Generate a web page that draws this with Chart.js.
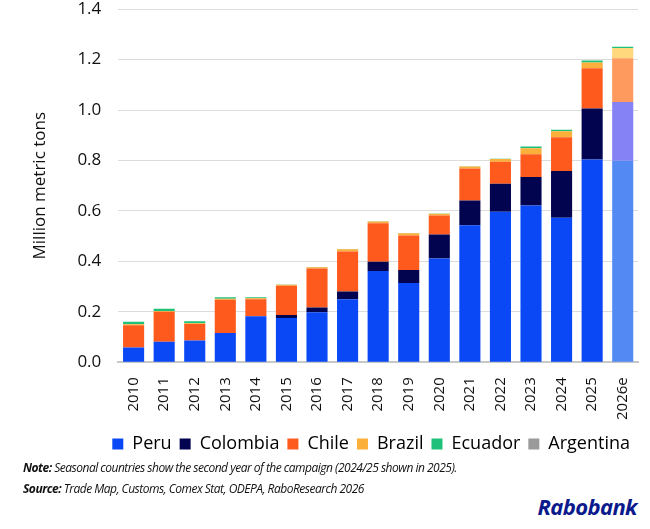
<!DOCTYPE html>
<html>
<head>
<meta charset="utf-8">
<script src="https://cdn.jsdelivr.net/npm/chart.js@4"></script>
<style>
    body { margin: 0; background: #fff; width: 650px; height: 529px; overflow: hidden; position: relative; font-family: "Open Sans", sans-serif; }
    #wrap { position: absolute; left: 0; top: -18px; width: 650px; height: 481px; }
    .note { position: absolute; left: 23px; font-size: 12px; font-style: italic; color: #111; white-space: nowrap; letter-spacing: -0.5px; }
    .note b { font-weight: 700; }
    #logo { position: absolute; right: 13px; top: 491px; font-size: 22px; font-weight: 700; font-style: italic; color: #0b1a8c; letter-spacing: -0.6px; }
</style>
</head>
<body>
<div id="wrap"><canvas id="chart"></canvas></div>
<div class="note" style="top:459px"><b>Note:</b> Seasonal countries show the second year of the campaign (2024/25 shown in 2025).</div>
<div class="note" style="top:480px"><b>Source:</b> Trade Map, Customs, Comex Stat, ODEPA, RaboResearch 2026</div>
<div id="logo">Rabobank</div>
<script>
const years = ['2010', '2011', '2012', '2013', '2014', '2015', '2016', '2017', '2018',
    '2019', '2020', '2021', '2022', '2023', '2024', '2025', '2026e'];
const yTicks = [0, 0.2, 0.4, 0.6, 0.8, 1.0, 1.2, 1.4];

// million metric tons
const peru      = [0.059, 0.081, 0.086, 0.116, 0.182, 0.176, 0.198, 0.250, 0.362, 0.314, 0.411, 0.543, 0.597, 0.622, 0.573, 0.804, 0.799];
const colombia  = [0.000, 0.000, 0.000, 0.000, 0.000, 0.011, 0.019, 0.031, 0.037, 0.052, 0.096, 0.098, 0.111, 0.113, 0.185, 0.202, 0.233];
const chile     = [0.088, 0.119, 0.066, 0.132, 0.068, 0.116, 0.155, 0.158, 0.152, 0.137, 0.075, 0.127, 0.087, 0.090, 0.134, 0.160, 0.174];
const brazil    = [0.004, 0.003, 0.003, 0.004, 0.004, 0.004, 0.005, 0.009, 0.007, 0.009, 0.007, 0.008, 0.011, 0.024, 0.024, 0.023, 0.040];
const ecuador   = [0.010, 0.009, 0.008, 0.006, 0.004, 0.001, 0.001, 0.001, 0.001, 0.001, 0.001, 0.001, 0.001, 0.007, 0.006, 0.008, 0.005];
const argentina = [0, 0, 0, 0, 0, 0, 0, 0, 0, 0, 0, 0, 0, 0, 0, 0, 0];

// estimate year gets a lighter shade
function shade(base, light) {
    return years.map(y => y.endsWith('e') ? light : base);
}

function series(label, data, base, light) {
    return {
        label: label,
        data: data,
        backgroundColor: shade(base, light),
        legendColor: base,
        borderWidth: 0,
        barPercentage: 0.69,
        categoryPercentage: 1.0
    };
}

const ctx = document.getElementById('chart').getContext('2d');
new Chart(ctx, {
    type: 'bar',
    data: {
        labels: years,
        datasets: [
            series('Peru', peru, '#0a48f5', '#5289f2'),
            series('Colombia', colombia, '#02044f', '#8582f5'),
            series('Chile', chile, '#ff5a1e', '#ff9a5e'),
            series('Brazil', brazil, '#fbb03b', '#ffd77d'),
            series('Ecuador', ecuador, '#1fc07a', '#1fc07a'),
            series('Argentina', argentina, '#9a9a9a', '#9a9a9a')
        ]
    },
    options: {
        responsive: true,
        maintainAspectRatio: false,
        animation: false,
        layout: {
            padding: { left: 30, right: 12, top: 2, bottom: 0 }
        },
        scales: {
            x: {
                stacked: true,
                grid: { display: false },
                border: { color: '#c8c8c8', width: 2 },
                ticks: {
                    color: '#111',
                    font: { family: 'Open Sans', size: 15 },
                    minRotation: 90,
                    maxRotation: 90,
                    padding: 7
                }
            },
            y: {
                stacked: true,
                min: 0,
                max: 1.4,
                afterBuildTicks: axis => {
                    axis.ticks = yTicks.map(v => ({ value: v }));
                },
                grid: { color: '#dcdcdc', drawTicks: false },
                border: { display: false },
                ticks: {
                    color: '#111',
                    font: { family: 'Open Sans', size: 17 },
                    padding: 17,
                    callback: v => v.toFixed(1)
                },
                title: {
                    display: true,
                    text: 'Million metric tons',
                    color: '#111',
                    font: { family: 'Open Sans', size: 17 },
                    padding: { top: 0, bottom: 10 }
                }
            }
        },
        plugins: {
            legend: {
                position: 'bottom',
                align: 'end',
                labels: {
                    color: '#111',
                    font: { family: 'Open Sans', size: 18 },
                    boxWidth: 11,
                    boxHeight: 11,
                    padding: 8,
                    generateLabels: chart => chart.data.datasets.map((ds, i) => ({
                        text: ds.label,
                        fillStyle: ds.legendColor,
                        strokeStyle: ds.legendColor,
                        lineWidth: 0,
                        hidden: false,
                        datasetIndex: i
                    }))
                }
            },
            tooltip: { enabled: false }
        }
    }
});
</script>
</body>
</html>
